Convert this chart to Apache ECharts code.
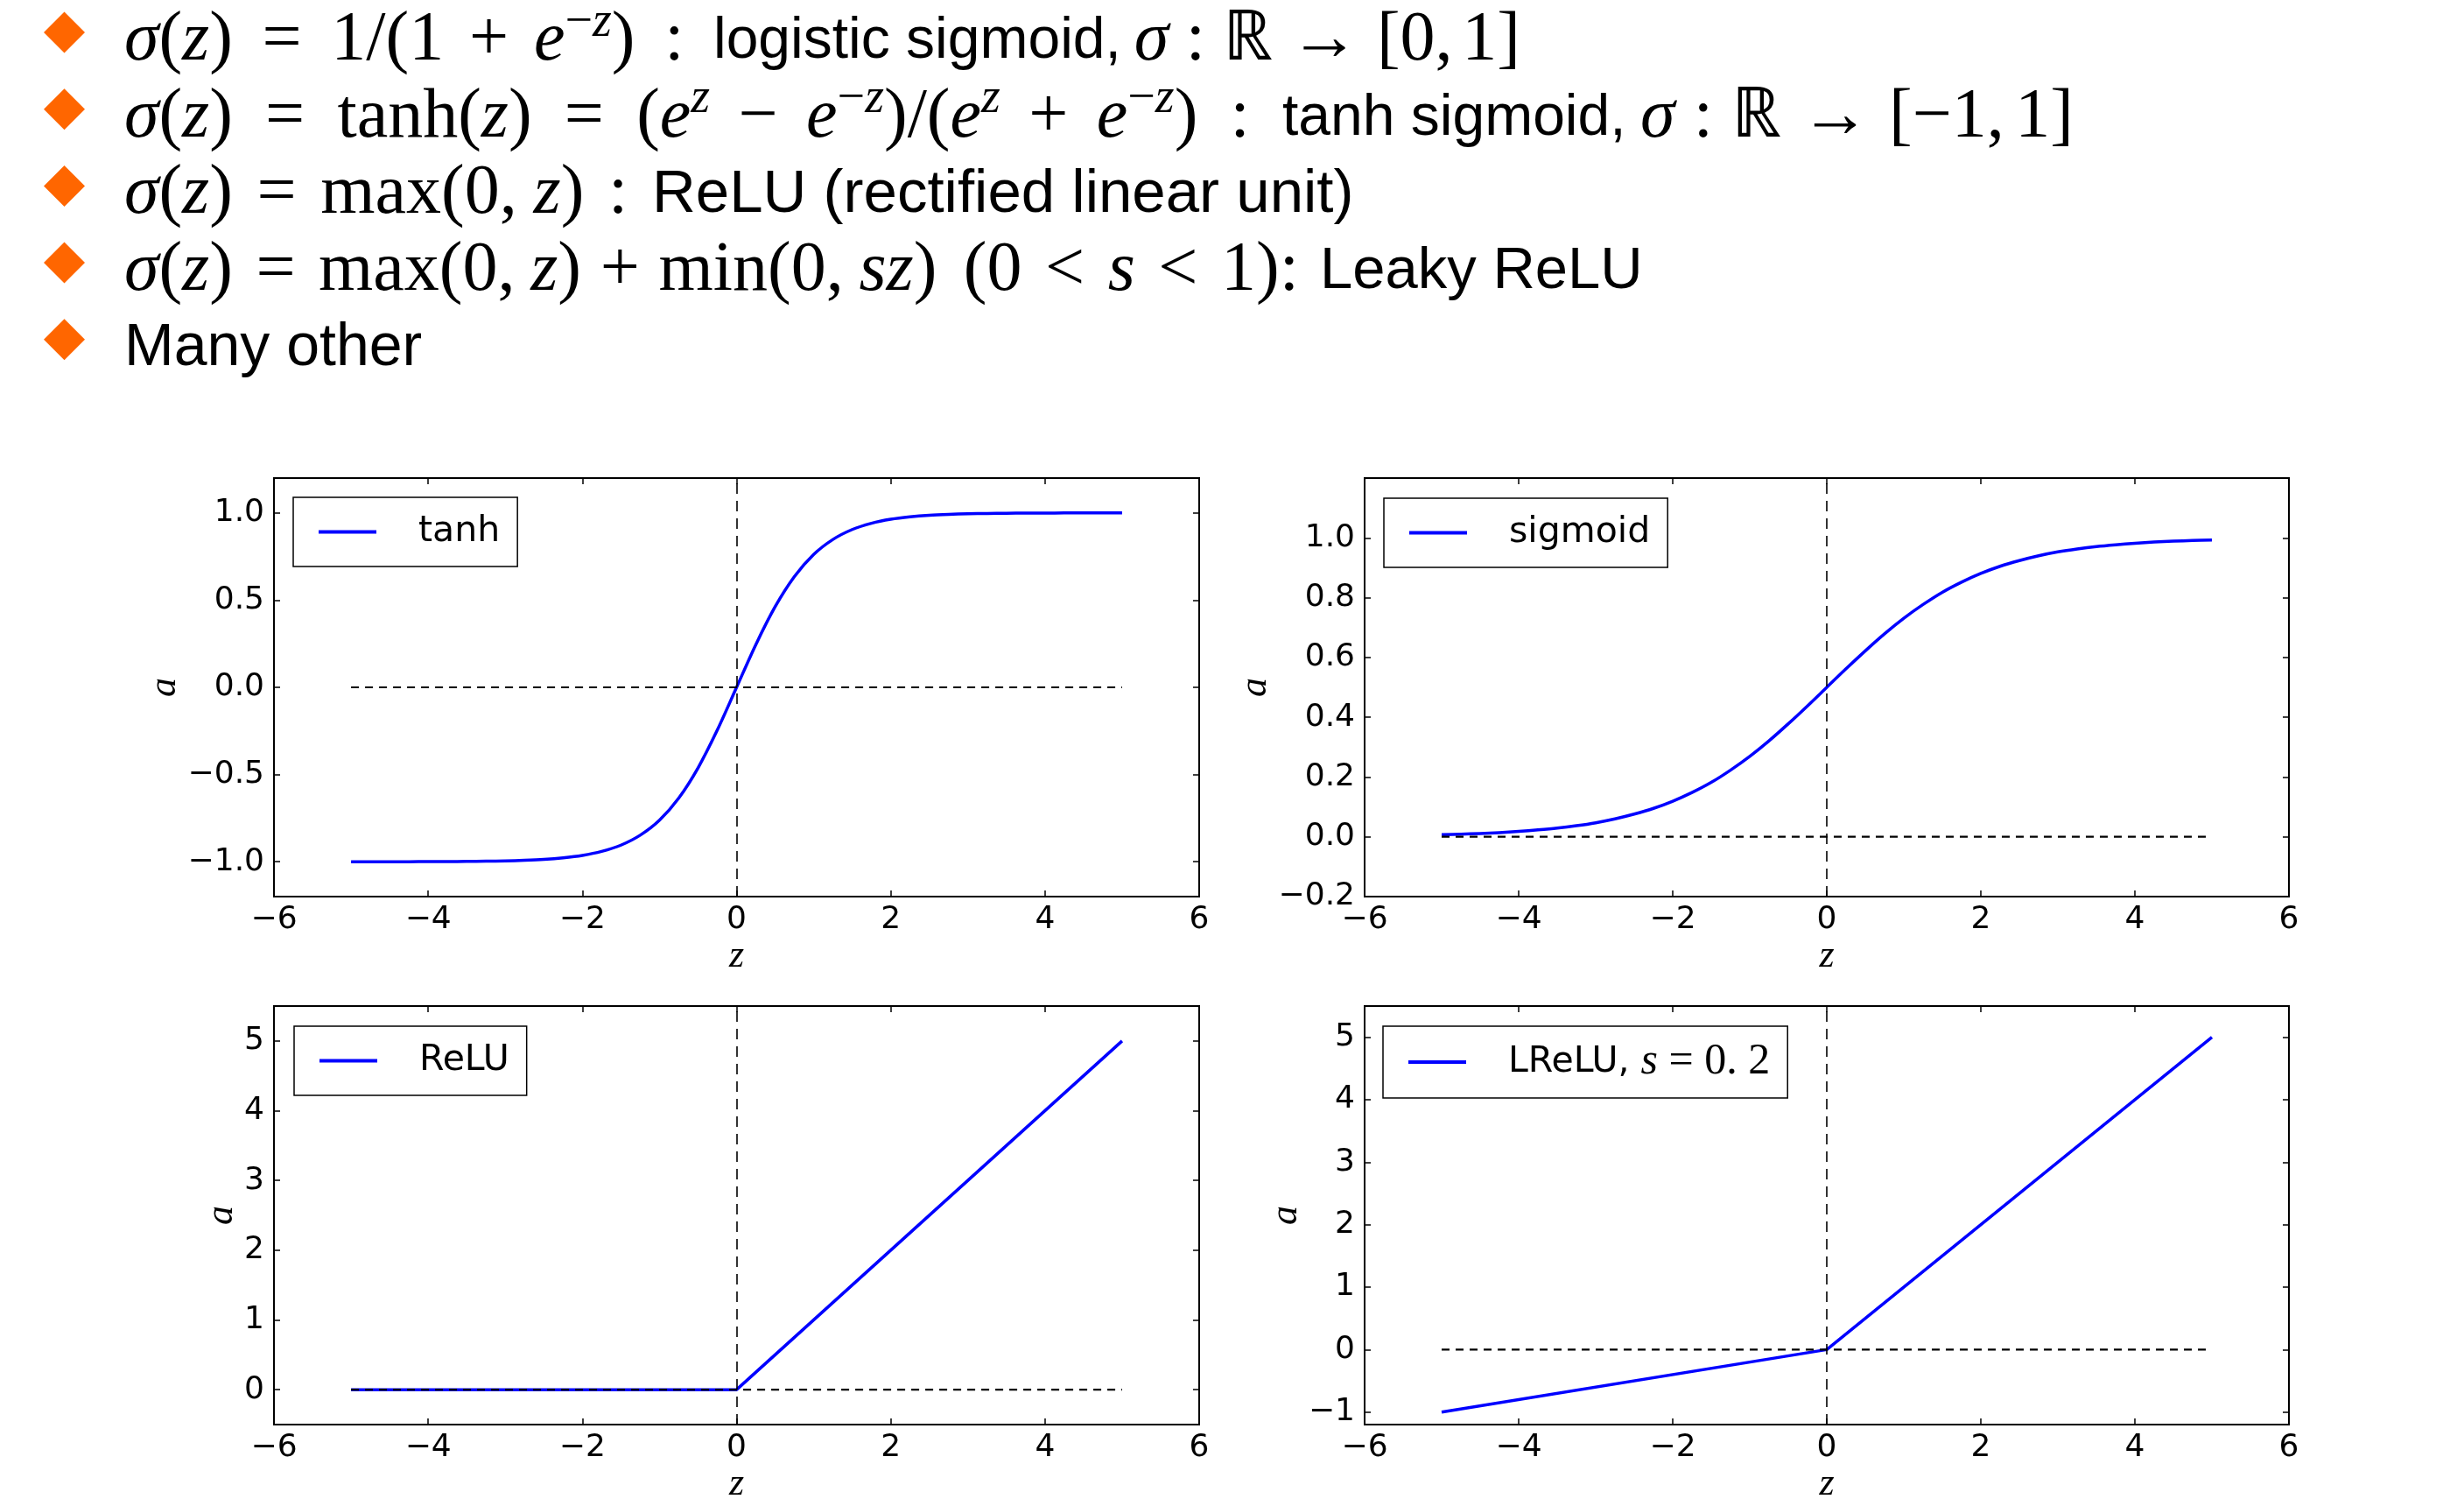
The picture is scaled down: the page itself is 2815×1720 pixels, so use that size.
<!DOCTYPE html>
<html><head><meta charset="utf-8">
<script src="https://cdn.jsdelivr.net/npm/echarts@6/dist/echarts.min.js"></script>
<style>html,body{margin:0;padding:0;background:#fff;}#c{width:2815px;height:1720px;}</style>
</head><body><div id="c"></div>
<script>
// ---------- data ----------
const zCurve = [-5, -4.75, -4.5, -4.25, -4, -3.75, -3.5, -3.25, -3, -2.75, -2.5, -2.25, -2, -1.75, -1.5, -1.25, -1, -0.75, -0.5, -0.25,
  0, 0.25, 0.5, 0.75, 1, 1.25, 1.5, 1.75, 2, 2.25, 2.5, 2.75, 3, 3.25, 3.5, 3.75, 4, 4.25, 4.5, 4.75, 5];
const tanhA = [-1.000, -1.000, -1.000, -1.000, -0.999, -0.999, -0.998, -0.997, -0.995, -0.992, -0.987, -0.978, -0.964, -0.941, -0.905, -0.848, -0.762, -0.635, -0.462, -0.245,
  0, 0.245, 0.462, 0.635, 0.762, 0.848, 0.905, 0.941, 0.964, 0.978, 0.987, 0.992, 0.995, 0.997, 0.998, 0.999, 0.999, 1.000, 1.000, 1.000, 1.000];
const sigmoidA = [0.007, 0.009, 0.011, 0.014, 0.018, 0.023, 0.029, 0.037, 0.047, 0.060, 0.076, 0.095, 0.119, 0.148, 0.182, 0.223, 0.269, 0.321, 0.378, 0.438,
  0.5, 0.562, 0.622, 0.679, 0.731, 0.777, 0.818, 0.852, 0.881, 0.905, 0.924, 0.940, 0.953, 0.963, 0.971, 0.977, 0.982, 0.986, 0.989, 0.991, 0.993];
const zKink = [-5, 0, 5];
const reluA = [0, 0, 5];
const lreluA = [-1, 0, 5];
const zFlat = [-5, 5];
const zeroA = [0, 0];
const vLineZ = 0;

const seriesNames = ['tanh', 'sigmoid', 'ReLU', 'LReLU, s = 0.2'];
const xRange = [-6, 6];
const xInterval = 2;
const yRanges = [[-1.2, 1.2], [-0.2, 1.2], [-0.5, 5.5], [-1.2, 5.5]];
const yTicks = [
  [-1.0, -0.5, 0.0, 0.5, 1.0],
  [-0.2, 0.0, 0.2, 0.4, 0.6, 0.8, 1.0],
  [0, 1, 2, 3, 4, 5],
  [-1, 0, 1, 2, 3, 4, 5]
];
const yDecimals = [1, 1, 0, 0];
const xName = 'z';
const yName = 'a';

// header text lines (tokens: t sans text, i math italic, r math roman, si/sr superscripts, _ gap in em)
const headerLines = [
  [['i','σ'],['r','('],['i','z'],['r',')'],['_',.28],['r','='],['_',.28],['r','1/(1'],['_',.22],['r','+'],['_',.22],['i','e'],['sr','−'],['si','z'],['r',')'],['_',.28],['r',':'],['_',.28],['t','logistic sigmoid,'],['_',.22],['i','σ'],['_',.28],['r',':'],['_',.28],['r','ℝ'],['_',.28],['r','→'],['_',.28],['r','[0,'],['_',.17],['r','1]']],
  [['i','σ'],['r','('],['i','z'],['r',')'],['_',.28],['r','='],['_',.28],['r','tanh('],['i','z'],['r',')'],['_',.28],['r','='],['_',.28],['r','('],['i','e'],['si','z'],['_',.22],['r','−'],['_',.22],['i','e'],['sr','−'],['si','z'],['r',')/('],['i','e'],['si','z'],['_',.22],['r','+'],['_',.22],['i','e'],['sr','−'],['si','z'],['r',')'],['_',.28],['r',':'],['_',.28],['t','tanh sigmoid,'],['_',.22],['i','σ'],['_',.28],['r',':'],['_',.28],['r','ℝ'],['_',.28],['r','→'],['_',.28],['r','[−1,'],['_',.17],['r','1]']],
  [['i','σ'],['r','('],['i','z'],['r',')'],['_',.28],['r','='],['_',.28],['r','max(0,'],['_',.17],['i','z'],['r',')'],['_',.28],['r',':'],['_',.28],['t','ReLU (rectified linear unit)']],
  [['i','σ'],['r','('],['i','z'],['r',')'],['_',.28],['r','='],['_',.28],['r','max(0,'],['_',.17],['i','z'],['r',')'],['_',.22],['r','+'],['_',.22],['r','min(0,'],['_',.17],['i','sz'],['r',')'],['_',.33],['r','(0'],['_',.28],['r','<'],['_',.28],['i','s'],['_',.28],['r','<'],['_',.28],['r','1):'],['_',.25],['t','Leaky ReLU']],
  [['t','Many other']]
];
// where the plain-text part of each line starts and where the line ends (layout)
const textStarts = [815, 1465, 745, 1508, null];
const lineEnds = [1737, 2369, null, null, null];
const textSizes = [66, 66, 69, 67, 68];

// ---------- layout ----------
const grids = [
  {left: 313, top: 546, width: 1057, height: 478},
  {left: 1559, top: 546, width: 1056, height: 478},
  {left: 313, top: 1149, width: 1057, height: 478},
  {left: 1559, top: 1149, width: 1056, height: 478}
];
const legendPos = [[335, 568], [1581, 569], [336, 1172], [1580, 1172]];
const yNameGaps = [100, 100, 37, 65];

const fmt = (v, d) => Number(v).toFixed(d).replace('-', '−');

const SM = 80, SUP = 56;
const mctx = document.createElement('canvas').getContext('2d');
function mw(font, t) { mctx.font = font; return mctx.measureText(t).width; }

const graphics = [];
headerLines.forEach((line, li) => {
  const FONTS = {
    t: textSizes[li] + 'px "Liberation Sans"',
    i: 'italic ' + SM + 'px "Liberation Serif"',
    r: SM + 'px "Liberation Serif"',
    si: 'italic ' + SUP + 'px "Liberation Serif"',
    sr: SUP + 'px "Liberation Serif"'
  };
  const yMid = 47 + 87.6 * li;
  const dc = 37 + 87.7 * li;
  graphics.push({type: 'polygon', shape: {points: [[73.5, dc - 23.5], [97, dc], [73.5, dc + 23.5], [50, dc]]}, style: {fill: '#ff6600'}, silent: true});
  const ti = line.findIndex(t => t[0] === 't');
  const segs = [];
  if (ti > 0) segs.push({toks: line.slice(0, ti), x0: 142, x1: textStarts[li]});
  const afterStart = ti >= 0 ? ti : 0;
  segs.push({toks: line.slice(afterStart), x0: ti > 0 ? textStarts[li] : 142, x1: lineEnds[li]});
  segs.forEach(seg => {
    let natural = 0, nGaps = 0;
    seg.toks.forEach(tok => {
      if (tok[0] === '_') { natural += tok[1] * SM; nGaps++; }
      else natural += mw(FONTS[tok[0]], tok[1]);
    });
    let extra = 0;
    if (seg.x1 && nGaps) {
      extra = (seg.x1 - seg.x0 - natural) / nGaps;
      extra = Math.max(-0.2 * SM, Math.min(0.3 * SM, extra));
    }
    let x = seg.x0;
    seg.toks.forEach(tok => {
      if (tok[0] === '_') { x += tok[1] * SM + extra; return; }
      const sup = tok[0] === 'si' || tok[0] === 'sr';
      const isText = tok[0] === 't';
      graphics.push({type: 'text', x: x, y: yMid + (sup ? -21 : (isText ? 1 : 0)), silent: true,
        style: {text: tok[1], font: FONTS[tok[0]], fill: '#000', align: 'left', verticalAlign: 'middle'}});
      x += mw(FONTS[tok[0]], tok[1]);
    });
  });
});

const xAxes = [], yAxes = [], series = [], legends = [];
const tickStyle = {color: '#000', width: 1.5};
const curveData = [
  zCurve.map((z, k) => [z, tanhA[k]]),
  zCurve.map((z, k) => [z, sigmoidA[k]]),
  zKink.map((z, k) => [z, reluA[k]]),
  zKink.map((z, k) => [z, lreluA[k]])
];
grids.forEach((g, i) => {
  xAxes.push({
    type: 'value', gridIndex: i, min: xRange[0], max: xRange[1], interval: xInterval, position: 'bottom',
    axisLine: {show: false, onZero: false}, splitLine: {show: false},
    axisTick: {inside: true, length: 7, lineStyle: tickStyle},
    axisLabel: {formatter: v => fmt(v, 0), fontFamily: 'DejaVu Sans', fontSize: 36, color: '#000', margin: 9, showMinLabel: true, showMaxLabel: true},
    name: xName, nameLocation: 'middle', nameGap: 46,
    nameTextStyle: {fontFamily: 'Liberation Serif', fontStyle: 'italic', fontSize: 44, color: '#000'}
  });
  xAxes.push({
    type: 'value', gridIndex: i, min: xRange[0], max: xRange[1], interval: xInterval, position: 'top',
    axisLine: {show: false, onZero: false}, splitLine: {show: false},
    axisTick: {inside: true, length: 7, lineStyle: tickStyle}, axisLabel: {show: false}
  });
  yAxes.push({
    type: 'value', gridIndex: i, min: yRanges[i][0], max: yRanges[i][1], position: 'left',
    axisLine: {show: false, onZero: false}, splitLine: {show: false},
    axisTick: {inside: true, length: 7, lineStyle: tickStyle, customValues: yTicks[i]},
    axisLabel: {customValues: yTicks[i], formatter: v => fmt(v, yDecimals[i]), fontFamily: 'DejaVu Sans', fontSize: 36, color: '#000', margin: 11},
    name: yName, nameLocation: 'middle', nameRotate: 90, nameGap: yNameGaps[i],
    nameTextStyle: {fontFamily: 'Liberation Serif', fontStyle: 'italic', fontSize: 44, color: '#000'}
  });
  yAxes.push({
    type: 'value', gridIndex: i, min: yRanges[i][0], max: yRanges[i][1], position: 'right',
    axisLine: {show: false, onZero: false}, splitLine: {show: false},
    axisTick: {inside: true, length: 7, lineStyle: tickStyle, customValues: yTicks[i]},
    axisLabel: {show: false, customValues: yTicks[i]}
  });
  series.push({
    name: seriesNames[i], type: 'line', xAxisIndex: 2 * i, yAxisIndex: 2 * i,
    data: curveData[i], showSymbol: false, smooth: i < 2 ? 0.3 : false,
    lineStyle: {color: '#0000ff', width: 3.5, join: 'round'}, itemStyle: {color: '#0000ff'}, z: 2
  });
  series.push({
    name: 'zero' + i, type: 'line', xAxisIndex: 2 * i, yAxisIndex: 2 * i,
    data: zFlat.map((z, k) => [z, zeroA[k]]), showSymbol: false,
    lineStyle: {color: '#000', width: 2.2, type: [9, 7]}, z: 3,
    markLine: {silent: true, symbol: ['none', 'none'], label: {show: false},
      lineStyle: {color: '#000', width: 1.6, type: [12, 8]}, data: [{xAxis: vLineZ}]}
  });
  const leg = {
    data: [seriesNames[i]], left: legendPos[i][0], top: legendPos[i][1], orient: 'vertical',
    borderColor: '#000', borderWidth: 1.5, backgroundColor: '#fff', borderRadius: 0,
    padding: [16, 20, 16, 29], icon: 'rect', itemWidth: 66, itemHeight: 4, selectedMode: false,
    textStyle: {fontFamily: 'DejaVu Sans', fontSize: 41, color: '#000', padding: [0, 0, 0, 43], lineHeight: 47}
  };
  if (i === 3) {
    leg.formatter = '{a|LReLU, }{m|s}{r| = 0. 2}';
    leg.textStyle.rich = {
      a: {fontFamily: 'DejaVu Sans', fontSize: 41, color: '#000', lineHeight: 47},
      m: {fontFamily: 'Liberation Serif', fontStyle: 'italic', fontSize: 50, color: '#000', lineHeight: 47},
      r: {fontFamily: 'Liberation Serif', fontSize: 50, color: '#000', lineHeight: 47}
    };
  }
  legends.push(leg);
});

const chart = echarts.init(document.getElementById('c'), null, {renderer: 'canvas'});
chart.setOption({
  animation: false,
  backgroundColor: '#fff',
  grid: grids.map(g => Object.assign({show: true, borderColor: '#000', borderWidth: 2, backgroundColor: 'transparent', containLabel: false}, g)),
  xAxis: xAxes,
  yAxis: yAxes,
  legend: legends,
  series: series,
  graphic: {elements: graphics}
});
</script>
</body></html>
